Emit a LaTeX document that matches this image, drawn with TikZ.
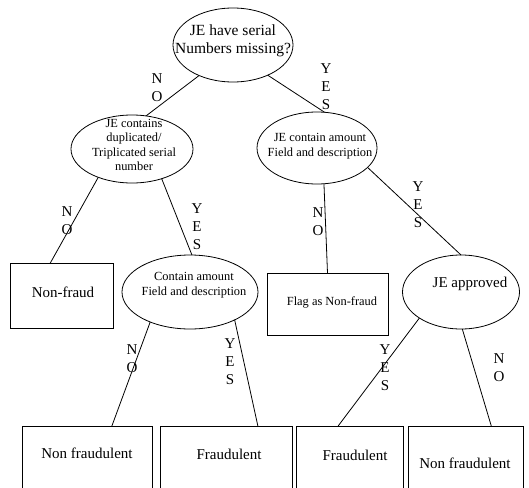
\documentclass[tikz,border=0pt]{standalone}
\usepackage{fontspec}
\setmainfont{Liberation Serif}
\usetikzlibrary{shapes.geometric}
\begin{document}
\begin{tikzpicture}[x=1pt,y=-1pt,line width=0.8pt,
  ell/.style={draw,ellipse,inner sep=0pt,outer sep=0pt},
  boxs/.style={draw,rectangle,inner sep=0pt,outer sep=0pt},
  big/.style={font=\fontsize{15}{17.5}\selectfont,align=center,inner sep=0pt},
  topt/.style={font=\fontsize{15.5}{18}\selectfont,align=center,inner sep=0pt},
  small/.style={font=\fontsize{12.4}{14.5}\selectfont,align=center,inner sep=0pt},
  yn/.style={font=\fontsize{15}{18}\selectfont,align=center,inner sep=0pt}]
\useasboundingbox (0,0) rectangle (529,487);
\clip (0,0) rectangle (529,487);
% ellipses
\node[ell,minimum width=120pt,minimum height=74pt] (T) at (233,45) {};
\node[topt] (Tt) at (233,41) {JE have serial\\Numbers missing?};
\node[ell,minimum width=122pt,minimum height=68pt] (L1) at (132,149) {};
\node[small] (L1t) at (134,145) {JE contains\\duplicated/\\Triplicated serial\\number};
\node[ell,minimum width=120pt,minimum height=72pt] (R1) at (317,148) {};
\node[small] (R1t) at (320,146) {JE contain amount\\Field and description};
\node[ell,minimum width=136pt,minimum height=74pt] (L2) at (190,292) {};
\node[small] (L2t) at (194,285) {Contain amount\\Field and description};
\node[ell,minimum width=117pt,minimum height=74pt] (R2) at (461,292) {};
\node[big] (R2t) at (470,284) {JE approved};
% boxes
\node[boxs,minimum width=103pt,minimum height=65pt] (NF) at (61.5,295.5) {};
\node[big] (NFt) at (63,292) {Non-fraud};
\node[boxs,minimum width=121pt,minimum height=62pt] (FL) at (327.5,304) {};
\node[small] (FLt) at (332,302) {Flag as Non-fraud};
\node[boxs,minimum width=130pt,minimum height=66pt] (B1) at (87,459) {};
\node[big] (B1t) at (87,453) {Non fraudulent};
\node[boxs,minimum width=132pt,minimum height=66pt] (B2) at (226,459) {};
\node[big] (B2t) at (229,454) {Fraudulent};
\node[boxs,minimum width=107pt,minimum height=66pt] (B3) at (349.5,459) {};
\node[big] (B3t) at (355,455) {Fraudulent};
\node[boxs,minimum width=115pt,minimum height=66pt] (B4) at (465.5,459) {};
\node[big] (B4t) at (465,463) {Non fraudulent};
% connectors
\draw (T.222) -- (L1.67);
\draw (T.-41) -- (R1.78);
\draw (L1.-140) -- (NF.109);
\draw (L1.-45) -- (L2.87);
\draw (R1.-79) -- (FL.north);
\draw (R1.-21) -- (R2.north);
\draw (L2.-143) -- (B1.53);
\draw (L2.-32) -- (B2.46);
\draw (R2.-148) -- (B3.109);
\draw (R2.-88) -- (B4.52);
% yes/no labels
\node[yn] (n1) at (157,88) {N\\O};
\node[yn] (y1) at (326,87) {Y\\E\\S};
\node[yn] (n2) at (67,221) {N\\O};
\node[yn] (y2) at (197,227) {Y\\E\\S};
\node[yn] (n3) at (318,222) {N\\O};
\node[yn] (y3) at (418,205) {Y\\E\\S};
\node[yn] (n4) at (132,359) {N\\O};
\node[yn] (y4) at (230,362) {Y\\E\\S};
\node[yn] (y5) at (385,368) {Y\\E\\S};
\node[yn] (n5) at (499,368) {N\\O};
\end{tikzpicture}
\end{document}
